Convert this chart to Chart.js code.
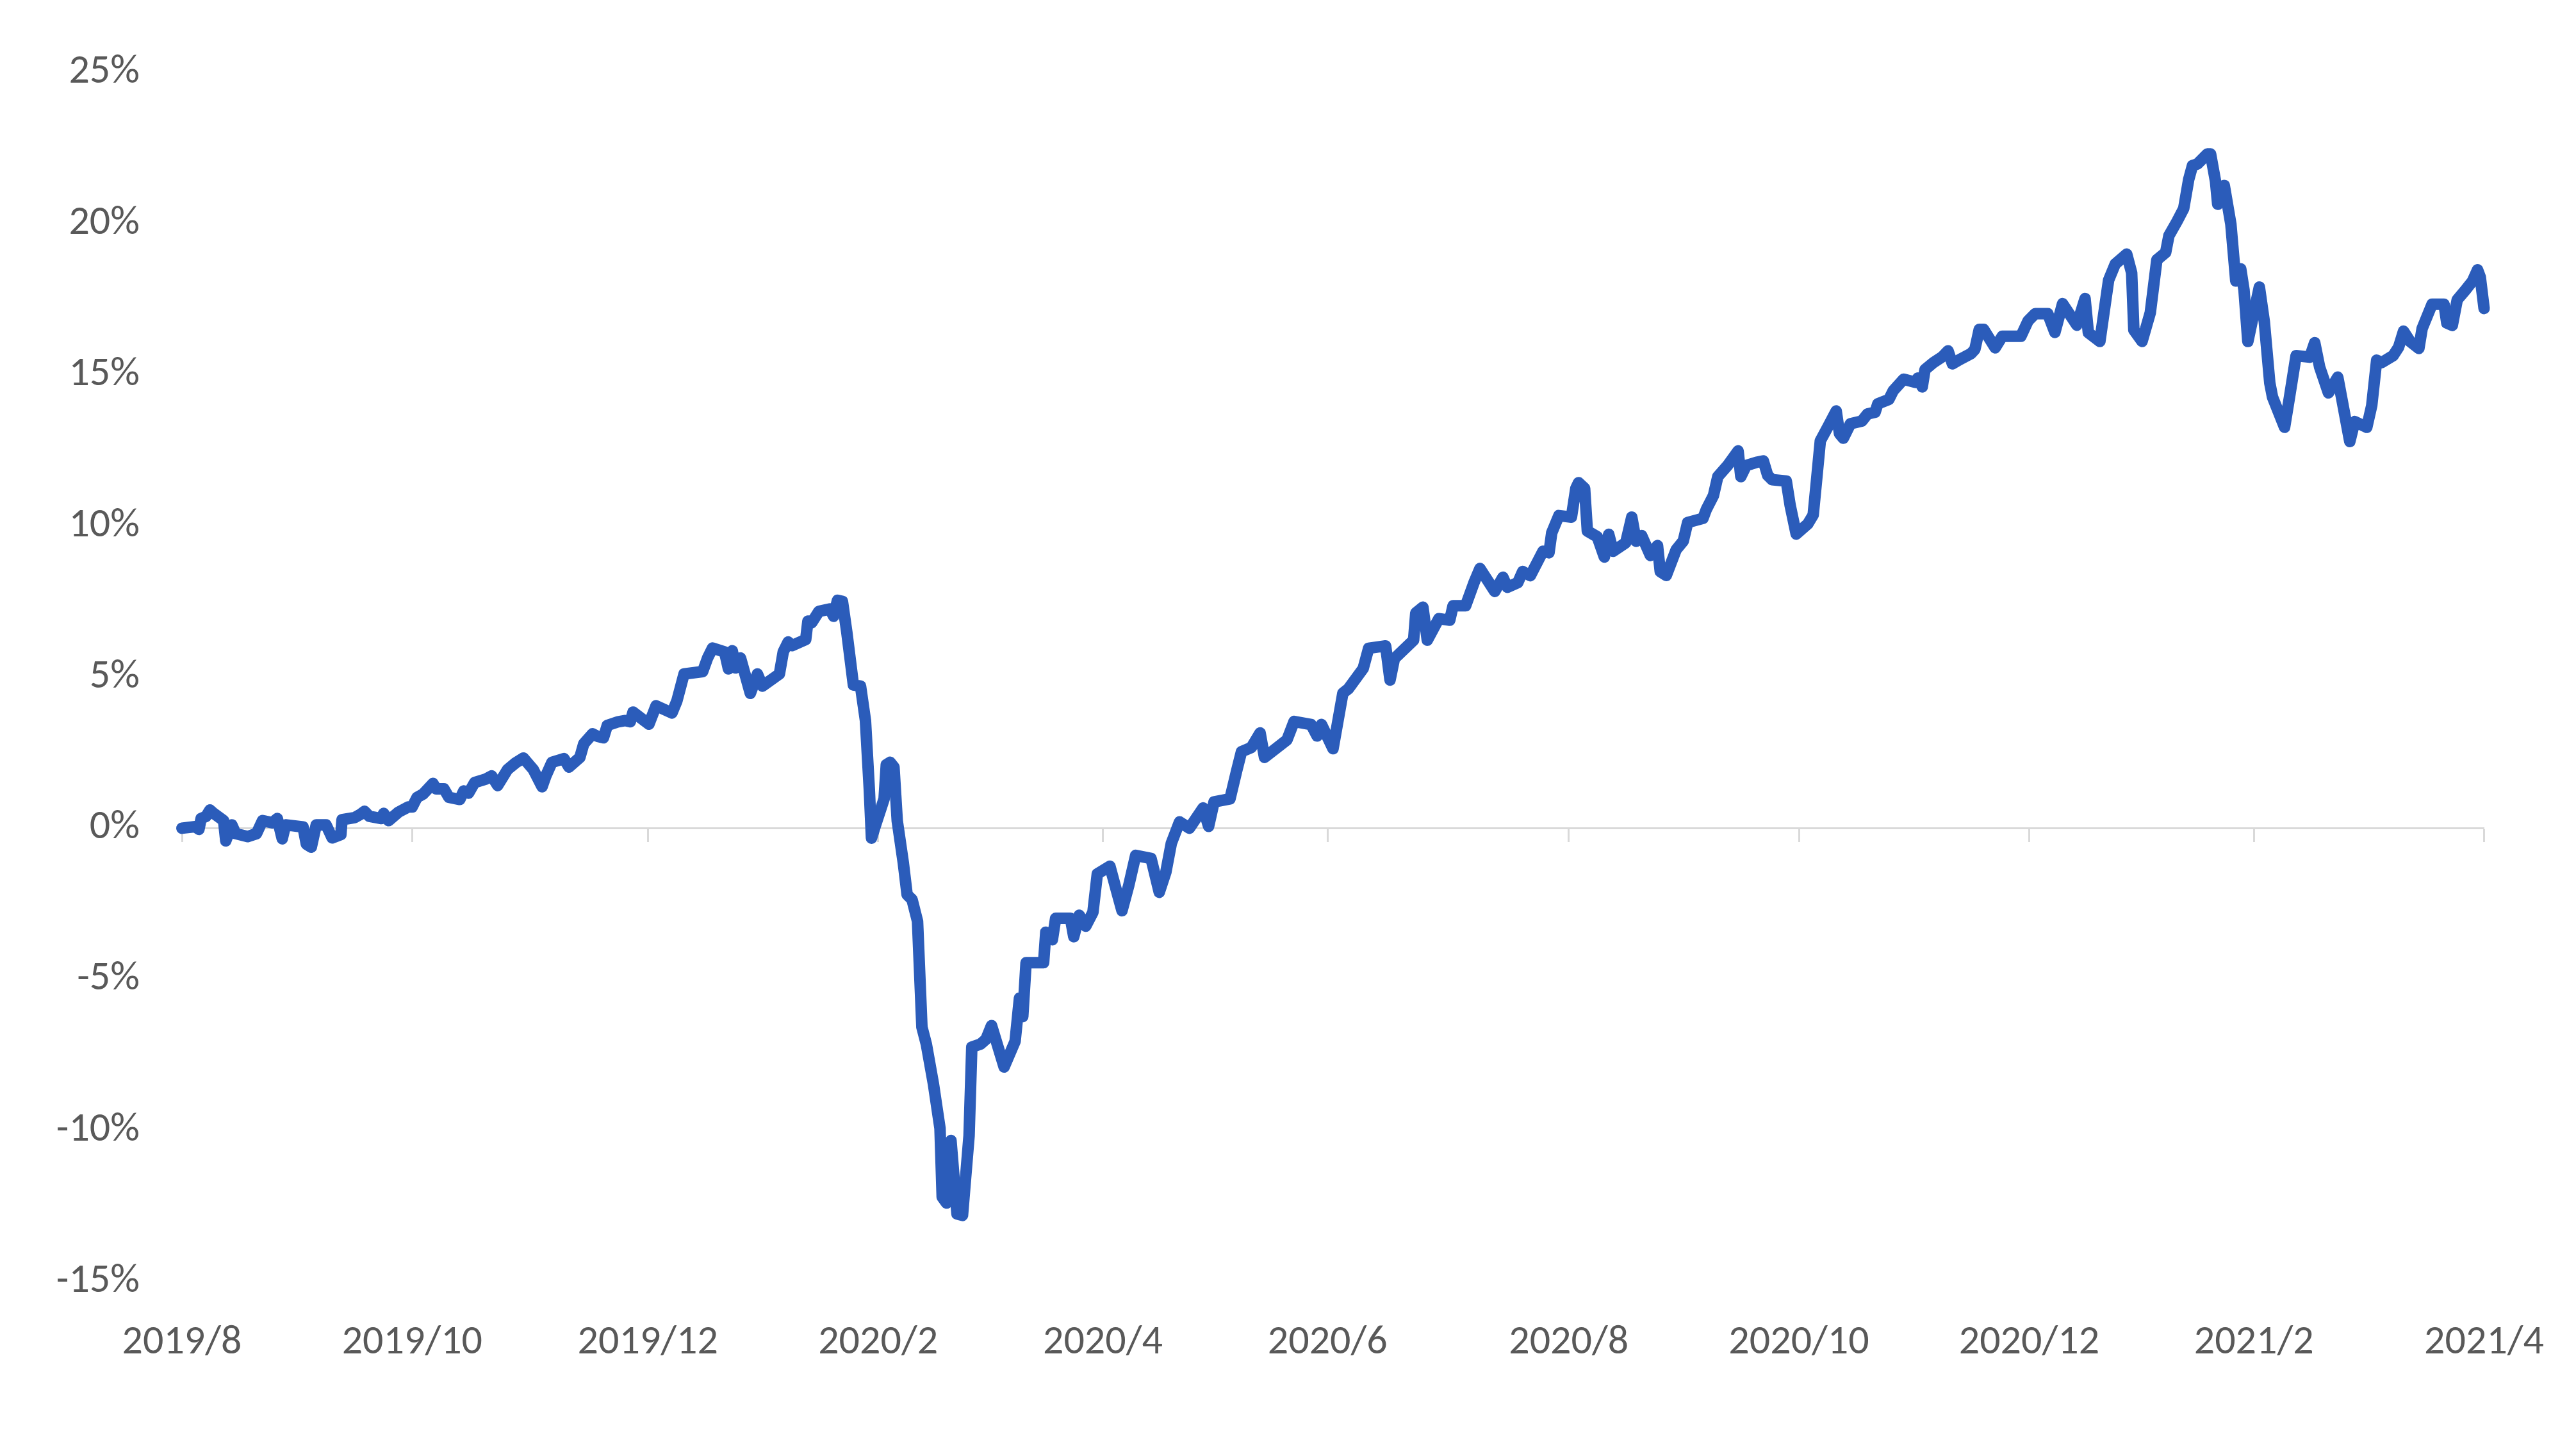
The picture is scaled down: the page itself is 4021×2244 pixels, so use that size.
<!DOCTYPE html>
<html>
<head>
<meta charset="utf-8">
<script src="https://cdn.jsdelivr.net/npm/chart.js@4/dist/chart.umd.min.js"></script>
<style>
html, body { margin: 0; padding: 0; background: #fff; }
canvas { display: block; }
</style>
</head>
<body>
<canvas id="chart" width="4021" height="2244"></canvas>
<script>
// position in trading days from 2019/8/1
const dayIndex = [
  0, 2.4, 3.1, 3.5, 4.4, 5.1, 5.8, 7.6, 8.0, 9.1, 9.8, 12.0, 13.6, 14.7, 16.5, 17.4, 18.3, 18.9,
  22.1, 22.7, 23.6, 24.5, 26.3, 27.4, 29.0, 29.2, 31.5, 32.6, 33.3, 34.2, 36.4, 36.8, 37.7, 39.5,
  41.3, 42.0, 42.9, 44.0, 45.8, 46.4, 47.8, 48.7, 50.7, 51.4, 52.3, 53.4, 55.4, 56.5, 57.6, 59.4,
  60.8, 62.3, 64.1, 65.7, 66.4, 67.5, 69.7, 70.6, 72.6, 73.3, 74.9, 75.8, 76.9, 77.6, 79.6, 80.9,
  81.8, 82.3, 85.2, 86.5, 89.4, 90.3, 91.6, 95.0, 95.9, 96.8, 99.0, 99.7, 100.4, 101.0, 101.9,
  103.7, 105.0, 105.9, 109.0, 109.7, 110.6, 111.3, 113.8, 114.2, 114.9, 116.2, 118.2, 118.9,
  119.6, 120.5, 121.3, 122.5, 123.8, 124.7, 125.4, 125.8, 126.5, 128.1, 128.5, 129.2, 129.9,
  130.5, 131.6, 132.3, 133.2, 134.2, 135.0, 135.8, 137.1, 138.3, 138.7, 139.5, 140.3, 141.4,
  142.4, 143.6, 144.1, 145.7, 146.7, 147.7, 150.0, 152.0, 152.8, 153.4, 154.0, 157.2, 157.6,
  158.8, 159.4, 162.1, 162.7, 163.7, 164.9, 166.2, 167.0, 169.3, 170.5, 171.5, 172.7, 174.0,
  176.8, 178.3, 179.5, 180.5, 182.0, 183.8, 186.3, 187.3, 188.3, 191.2, 192.4, 193.3, 195.1,
  196.7, 197.5, 201.6, 202.9, 206.0, 207.1, 207.9, 210.0, 211.8, 212.8, 215.5, 216.5, 219.6,
  220.4, 221.2, 224.7, 225.1, 226.4, 227.2, 229.3, 231.3, 231.9, 234.2, 235.8, 236.8, 239.5,
  241.0, 241.8, 243.7, 244.6, 246.0, 248.3, 249.4, 249.9, 251.2, 253.5, 254.3, 254.8, 255.9,
  256.4, 258.2, 259.5, 260.3, 261.1, 263.4, 264.5, 265.3, 266.3, 267.9, 269.2, 269.7, 270.8,
  272.6, 273.9, 274.7, 277.5, 278.1, 279.4, 280.2, 282.0, 283.9, 284.4, 285.4, 287.2, 288.5,
  289.3, 290.1, 292.7, 293.4, 294.5, 296.6, 297.6, 298.2, 298.9, 300.3, 301.8, 302.4, 303.1,
  304.4, 306.5, 307.5, 308.9, 309.4, 311.4, 312.2, 314.1, 316.2, 316.7, 317.5, 318.0, 319.6,
  321.2, 322.2, 323.0, 324.3, 326.4, 327.1, 327.9, 328.7, 330.8, 332.1, 335.5, 336.8, 338.1,
  340.4, 341.7, 343.1, 345.7, 347.2, 347.8, 349.9, 351.5, 352.7, 354.8, 355.7, 356.1, 357.6,
  359.1, 360.3, 361.9, 362.5, 364.0, 365.2, 366.1, 366.8, 367.7, 369.5, 370.1, 371.0, 371.4,
  372.6, 373.8, 374.7, 375.6, 376.2, 376.9, 379.0, 379.9, 380.9, 381.4, 383.6, 384.5, 385.7,
  388.2, 389.1, 390.0, 391.6, 393.3, 395.5, 396.4, 398.6, 399.5, 400.4, 401.3, 403.4, 404.4,
  405.3, 406.5, 408.1, 408.7, 410.5, 412.7, 413.2, 414.2, 415.1, 416.6, 417.9, 418.8, 419.3, 420
];

// cumulative return, %
const returns = [
  0, 0.05, -0.04, 0.32, 0.39, 0.6, 0.49, 0.25, -0.42, 0.11, -0.18, -0.28, -0.18, 0.25, 0.18, 0.32, -0.35, 0.11,
  0.04, -0.53, -0.63, 0.11, 0.11, -0.32, -0.21, 0.28, 0.35, 0.46, 0.56, 0.39, 0.32, 0.49, 0.25, 0.53,
  0.7, 0.7, 1.02, 1.13, 1.48, 1.3, 1.3, 1.02, 0.95, 1.23, 1.16, 1.51, 1.62, 1.73, 1.41, 1.94,
  2.15, 2.32, 1.94, 1.37, 1.73, 2.18, 2.3, 2.02, 2.34, 2.79, 3.12, 3.04, 2.99, 3.4, 3.52, 3.56,
  3.52, 3.84, 3.44, 4.05, 3.81, 4.21, 5.1, 5.18, 5.63, 5.96, 5.83, 5.27, 5.87, 5.3, 5.63,
  4.46, 5.1, 4.7, 5.1, 5.83, 6.16, 6.04, 6.24, 6.85, 6.8, 7.17, 7.25, 7.01,
  7.54, 7.5, 6.48, 4.74, 4.7, 3.56, 1.29, -0.33, 0.08, 0.97, 2.1, 2.18, 2.02,
  0.24, -1.14, -2.2, -2.36, -3.08, -6.58, -7.14, -8.46, -9.93, -12.2, -12.4, -10.33, -12.76,
  -12.81, -10.18, -7.24, -7.14, -6.98, -6.53, -7.9, -7.05, -5.62, -6.23, -4.45, -4.45, -3.44,
  -3.69, -2.98, -2.98, -3.59, -2.88, -3.24, -2.78, -1.51, -1.26, -2.07, -2.73, -1.92, -0.9,
  -1.0, -2.12, -1.46, -0.5, 0.21, 0.0, 0.67, 0.06, 0.87, 0.97, 1.88, 2.53, 2.67,
  3.15, 2.34, 2.92, 3.53, 3.43, 3.05, 3.43, 2.63, 4.47, 4.61, 5.28, 5.95, 6.03,
  4.9, 5.61, 6.22, 7.12, 7.31, 6.22, 6.93, 6.88, 7.36, 7.36, 8.16, 8.59, 7.83,
  8.3, 7.97, 8.12, 8.49, 8.35, 9.16, 9.11, 9.77, 10.34, 10.29, 11.24, 11.43, 11.24,
  9.83, 9.64, 8.97, 9.72, 9.16, 9.44, 10.29, 9.49, 9.68, 9.02, 9.35, 8.49, 8.36,
  9.21, 9.5, 10.11, 10.25, 10.54, 11.0, 11.63, 12.0, 12.48, 11.63, 12.0, 12.1, 12.15,
  11.67, 11.53, 11.48, 10.68, 9.73, 10.06, 10.36, 11.48, 12.81, 13.28, 13.8, 13.05, 12.9,
  13.38, 13.47, 13.7, 13.76, 14.04, 14.18, 14.47, 14.85, 14.75, 14.89, 14.6, 15.17, 15.41,
  15.6, 15.79, 15.36, 15.5, 15.7, 15.84, 16.5, 16.5, 15.89, 16.27, 16.27, 16.78, 17.02,
  17.02, 16.4, 17.35, 16.64, 17.52, 16.39, 16.1, 18.13, 18.66, 18.99, 18.37, 16.48, 16.1,
  17.05, 18.8, 19.04, 19.6, 20.08, 20.5, 21.45, 21.92, 21.97, 22.3, 22.3, 21.4, 20.64,
  21.26, 19.98, 18.1, 18.5, 17.8, 16.1, 17.9, 16.76, 14.73, 14.26, 13.26, 14.26, 15.63,
  15.58, 16.06, 15.25, 14.4, 14.92, 12.79, 13.45, 13.26, 13.98, 15.48, 15.4, 15.63, 15.91,
  16.44, 16.1, 15.87, 16.53, 17.33, 17.33, 16.71, 16.63, 17.48, 17.8, 18.1, 18.47, 18.23, 17.19
];

// month boundaries in trading days and their labels
const monthTicks = [0, 42, 85, 127, 168, 209, 253, 295, 337, 378, 420];
const monthLabels = ['2019/8', '2019/10', '2019/12', '2020/2', '2020/4', '2020/6', '2020/8', '2020/10', '2020/12', '2021/2', '2021/4'];
const yTicks = [-15, -10, -5, 0, 5, 10, 15, 20, 25];

const font = { family: 'Carlito, Calibri, Lato, sans-serif', size: 64 };
const setMonthTicks = scale => { scale.ticks = monthTicks.map(v => ({ value: v })); };

const ctx = document.getElementById('chart').getContext('2d');
new Chart(ctx, {
  type: 'line',
  data: {
    datasets: [{
      data: dayIndex.map((d, i) => ({ x: d, y: returns[i] })),
      xAxisID: 'x',
      yAxisID: 'y',
      borderColor: '#2b5cba',
      borderWidth: 18,
      borderJoinStyle: 'round',
      borderCapStyle: 'round',
      pointRadius: 0,
      tension: 0,
      clip: false
    }]
  },
  options: {
    responsive: false,
    devicePixelRatio: 1,
    animation: false,
    layout: { padding: { left: 0, right: 143, top: 113, bottom: 0 } },
    plugins: { legend: { display: false }, tooltip: { enabled: false } },
    scales: {
      x: {
        type: 'linear', min: 0, max: 420,
        afterBuildTicks: setMonthTicks,
        afterFit: s => { s.height = 244; },
        grid: { display: false },
        border: { display: false },
        ticks: {
          font, color: '#595959', padding: 50, maxRotation: 0, autoSkip: false,
          callback: v => monthLabels[monthTicks.indexOf(v)]
        }
      },
      zero: {
        type: 'linear', axis: 'x', min: 0, max: 420,
        position: { y: 0 },
        afterBuildTicks: setMonthTicks,
        afterFit: s => { s.height = 0; },
        grid: { drawOnChartArea: false, drawTicks: true, tickLength: 20, tickColor: '#d9d9d9', tickWidth: 3 },
        border: { color: '#d9d9d9', width: 3 },
        ticks: { display: false }
      },
      y: {
        type: 'linear', min: -15, max: 25,
        afterBuildTicks: s => { s.ticks = yTicks.map(v => ({ value: v })); },
        afterFit: s => { s.width = 284; },
        grid: { display: false },
        border: { display: false },
        ticks: { font, color: '#595959', padding: 58, callback: v => v + '%' }
      }
    }
  }
});
</script>
</body>
</html>
